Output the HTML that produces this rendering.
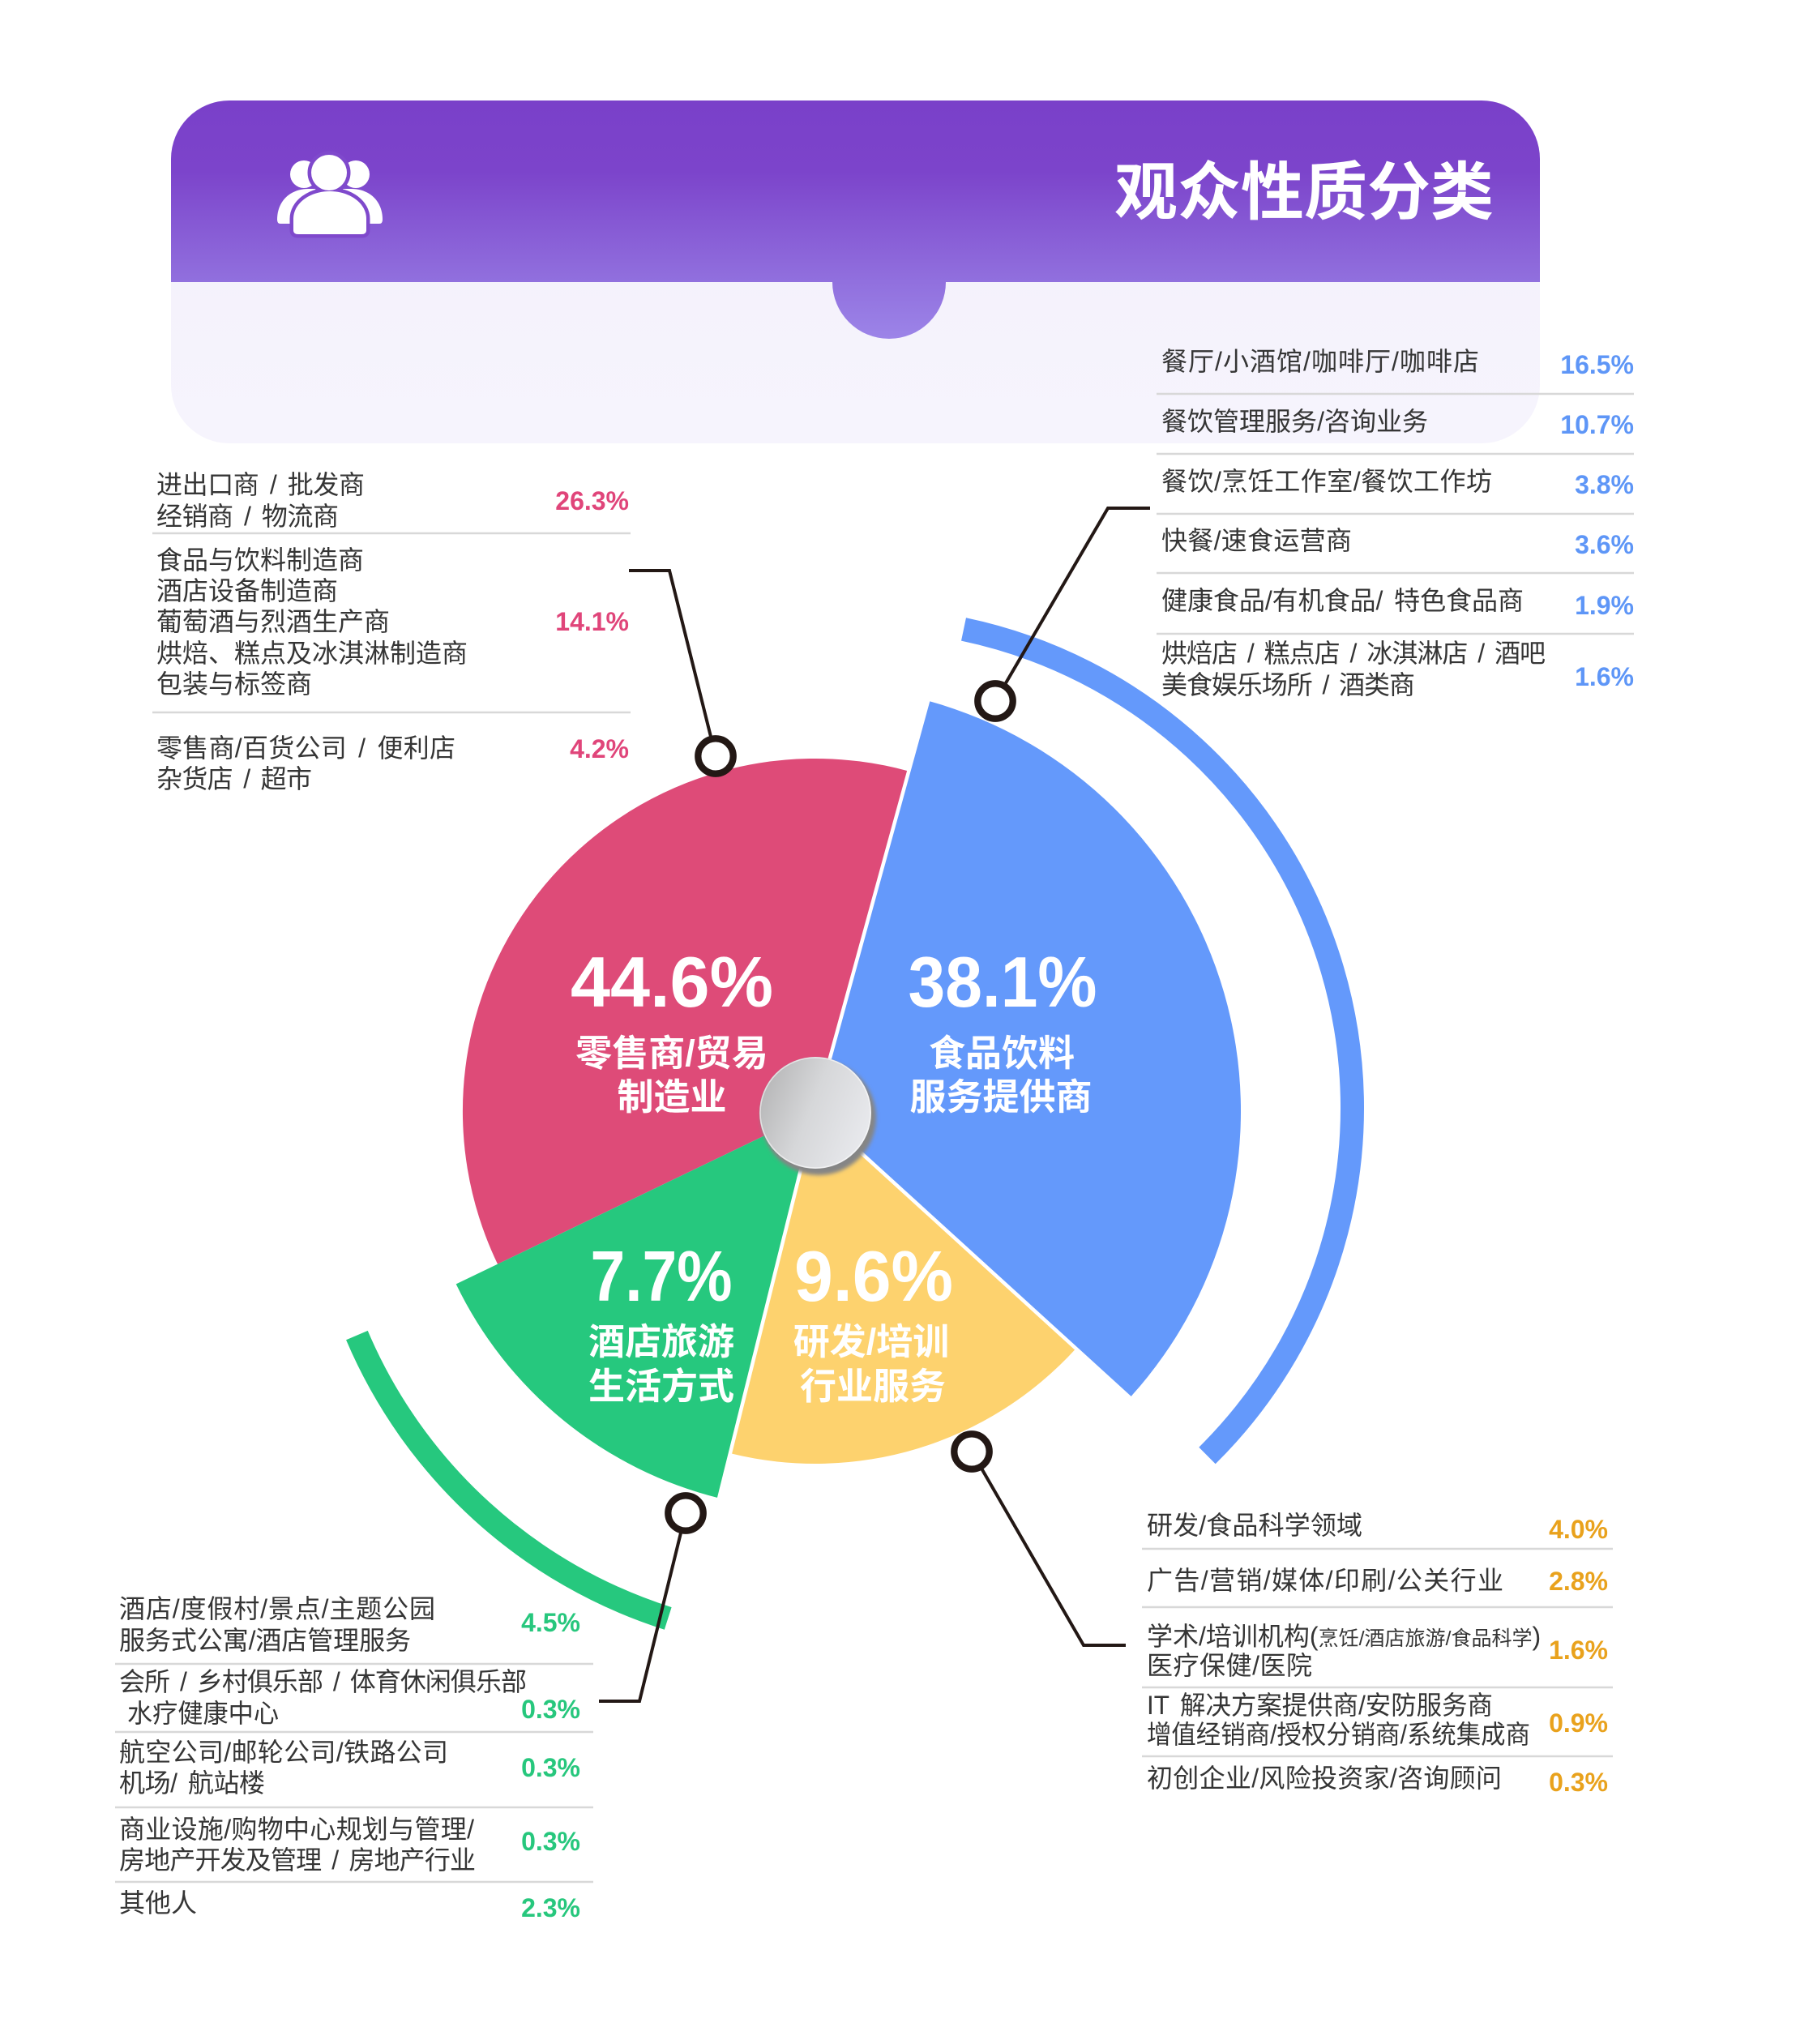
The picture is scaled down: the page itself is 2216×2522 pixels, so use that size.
<!DOCTYPE html>
<html><head><meta charset="utf-8"><style>
html,body{margin:0;padding:0;background:#fff;}
svg{display:block;}
text{font-family:"Liberation Sans","Noto Sans CJK SC",sans-serif;}
.l{font-size:32px;fill:#353535;word-spacing:5px;}
.p{font-size:32px;font-weight:bold;text-anchor:end;}
.pk{fill:#e0457a}.bl{fill:#5e96f7}.gr{fill:#27c77d}.or{fill:#e9a21d}
.big{font-size:88px;font-weight:bold;fill:#fff;text-anchor:middle;}
.cn{font-size:45px;font-weight:bold;fill:#fff;text-anchor:middle;}
.sep{stroke:#d8d8d8;stroke-width:2.5;}
.con{fill:none;stroke:#231815;stroke-width:4;}
.dot{fill:#fff;stroke:#231815;stroke-width:8.3;}
</style></head><body>
<svg width="2216" height="2522" viewBox="0 0 2216 2522" xmlns="http://www.w3.org/2000/svg">
<defs>
<clipPath id="hc"><rect x="211" y="124" width="1689" height="423" rx="72"/></clipPath>
<linearGradient id="pg" gradientUnits="userSpaceOnUse" x1="0" y1="124" x2="0" y2="418">
<stop offset="0" stop-color="#7a40c9"/><stop offset="0.3" stop-color="#7c44cb"/><stop offset="0.762" stop-color="#9170de"/><stop offset="1" stop-color="#9c84e8"/>
</linearGradient>
<linearGradient id="lg" x1="0" y1="0" x2="0" y2="1"><stop offset="0" stop-color="#f3f0fb"/><stop offset="1" stop-color="#f6f4fd"/></linearGradient>
<linearGradient id="cg" x1="0" y1="0.3" x2="1" y2="0.7"><stop offset="0" stop-color="#b6b6b7"/><stop offset="0.45" stop-color="#d6d7d9"/><stop offset="1" stop-color="#e9eaee"/></linearGradient>
<filter id="bl2" x="-20%" y="-20%" width="140%" height="140%"><feGaussianBlur stdDeviation="2.5"/></filter>
</defs>

<!-- Header -->
<g clip-path="url(#hc)">
<rect x="211" y="124" width="1689" height="423" fill="url(#lg)"/>
<rect x="211" y="124" width="1689" height="224" fill="url(#pg)"/>
</g>
<circle cx="1097" cy="348" r="70" fill="url(#pg)"/>

<!-- Icon -->
<g fill="#fff">
<circle cx="375" cy="215" r="17"/>
<path d="M342 271 C342 249 357 233 381 233 L402 233 L402 276 L346 276 Q342 276 342 271 Z"/>
<circle cx="439" cy="215" r="17"/>
<path d="M472 271 C472 249 457 233 433 233 L412 233 L412 276 L468 276 Q472 276 472 271 Z"/>
</g>
<g fill="none" stroke="#7f49cc" stroke-width="9">
<circle cx="406" cy="213" r="22"/>
<path d="M362 284 L362 270 C362 251 382 236 407 236 C432 236 452 251 452 270 L452 284 Q452 289 446 289 L368 289 Q362 289 362 284 Z"/>
</g>
<g fill="#fff">
<circle cx="406" cy="213" r="22"/>
<path d="M362 284 L362 270 C362 251 382 236 407 236 C432 236 452 251 452 270 L452 284 Q452 289 446 289 L368 289 Q362 289 362 284 Z"/>
</g>

<text x="1375" y="264" style="font-size:78px;font-weight:bold;fill:#fff;">观众性质分类</text>

<!-- Pie -->
<path d="M1006 1371 L614.0 1559.7 A435 435 0 0 1 1121.5 951.6 Z" fill="#de4b78"/>
<path d="M1006 1371 L1145.4 864.8 A525 525 0 0 1 1394.3 1724.3 Z" fill="#6499fb"/>
<path d="M1006 1371 L1327.7 1663.8 A435 435 0 0 1 901.5 1793.3 Z" fill="#fdd26e"/>
<path d="M1006 1371 L887.8 1848.6 A492 492 0 0 1 562.7 1584.4 Z" fill="#26c87e"/>
<g stroke="#fff" stroke-width="4.5">
<line x1="1006" y1="1371" x2="1147" y2="858"/>
<line x1="1006" y1="1371" x2="1398" y2="1728"/>
<line x1="1006" y1="1371" x2="886" y2="1853"/>
</g>

<!-- Outer arcs -->
<path d="M1189 776.4 A603.5 603.5 0 0 1 1489.5 1796" fill="none" stroke="#6499fb" stroke-width="29"/>
<path d="M824.2 1996.9 A621 621 0 0 1 440.4 1647.6" fill="none" stroke="#26c87e" stroke-width="29"/>

<!-- Center knob -->
<circle cx="1010" cy="1379" r="71" fill="#858585" filter="url(#bl2)"/>
<circle cx="1006" cy="1373" r="69" fill="url(#cg)"/>
<circle cx="1006" cy="1373" r="68" fill="none" stroke="#fff" stroke-opacity="0.55" stroke-width="1.5"/>

<!-- Pie labels -->
<text class="big" x="829" y="1242" textLength="250" lengthAdjust="spacingAndGlyphs">44.6%</text>
<text class="cn" x="829" y="1315">零售商/贸易</text>
<text class="cn" x="829" y="1369">制造业</text>
<text class="big" x="1237" y="1242" textLength="233" lengthAdjust="spacingAndGlyphs">38.1%</text>
<text class="cn" x="1236" y="1315">食品饮料</text>
<text class="cn" x="1235" y="1369">服务提供商</text>
<text class="big" x="816" y="1605" textLength="175" lengthAdjust="spacingAndGlyphs">7.7%</text>
<text class="cn" x="816" y="1671">酒店旅游</text>
<text class="cn" x="816" y="1726">生活方式</text>
<text class="big" x="1078" y="1605" textLength="196" lengthAdjust="spacingAndGlyphs">9.6%</text>
<text class="cn" x="1075" y="1671">研发/培训</text>
<text class="cn" x="1077" y="1726">行业服务</text>

<!-- Left top labels -->
<text class="l" x="193" y="609" textLength="257">进出口商 / 批发商</text>
<text class="l" x="193" y="648" textLength="225">经销商 / 物流商</text>
<text class="p pk" x="776" y="629">26.3%</text>
<line class="sep" x1="188" y1="658" x2="778" y2="658"/>
<text class="l" x="193" y="702">食品与饮料制造商</text>
<text class="l" x="193" y="740">酒店设备制造商</text>
<text class="l" x="193" y="778">葡萄酒与烈酒生产商</text>
<text class="l" x="193" y="817">烘焙、糕点及冰淇淋制造商</text>
<text class="l" x="193" y="855">包装与标签商</text>
<text class="p pk" x="776" y="778">14.1%</text>
<line class="sep" x1="188" y1="879" x2="778" y2="879"/>
<text class="l" x="193" y="934" textLength="369">零售商/百货公司 / 便利店</text>
<text class="l" x="193" y="972" textLength="192">杂货店 / 超市</text>
<text class="p pk" x="776" y="935">4.2%</text>

<!-- Right top labels -->
<text class="l" x="1433" y="457" textLength="392">餐厅/小酒馆/咖啡厅/咖啡店</text>
<text class="p bl" x="2016" y="461">16.5%</text>
<line class="sep" x1="1427" y1="486" x2="2016" y2="486"/>
<text class="l" x="1433" y="531" textLength="329">餐饮管理服务/咨询业务</text>
<text class="p bl" x="2016" y="535">10.7%</text>
<line class="sep" x1="1427" y1="560" x2="2016" y2="560"/>
<text class="l" x="1433" y="605" textLength="408">餐饮/烹饪工作室/餐饮工作坊</text>
<text class="p bl" x="2016" y="609">3.8%</text>
<line class="sep" x1="1427" y1="634" x2="2016" y2="634"/>
<text class="l" x="1433" y="678" textLength="235">快餐/速食运营商</text>
<text class="p bl" x="2016" y="683">3.6%</text>
<line class="sep" x1="1427" y1="707" x2="2016" y2="707"/>
<text class="l" x="1433" y="752" textLength="447">健康食品/有机食品/ 特色食品商</text>
<text class="p bl" x="2016" y="758">1.9%</text>
<line class="sep" x1="1427" y1="782" x2="2016" y2="782"/>
<text class="l" x="1433" y="817" textLength="474">烘焙店 / 糕点店 / 冰淇淋店 / 酒吧</text>
<text class="l" x="1433" y="856" textLength="313">美食娱乐场所 / 酒类商</text>
<text class="p bl" x="2016" y="846">1.6%</text>

<!-- Bottom right labels -->
<text class="l" x="1415" y="1893" textLength="266">研发/食品科学领域</text>
<text class="p or" x="1984" y="1898">4.0%</text>
<line class="sep" x1="1409" y1="1911" x2="1990" y2="1911"/>
<text class="l" x="1415" y="1961" textLength="440">广告/营销/媒体/印刷/公关行业</text>
<text class="p or" x="1984" y="1962">2.8%</text>
<line class="sep" x1="1409" y1="1983" x2="1990" y2="1983"/>
<text class="l" x="1415" y="2030">学术/培训机构(<tspan font-size="25">烹饪/酒店旅游/食品科学</tspan>)</text>
<text class="l" x="1415" y="2066" textLength="204">医疗保健/医院</text>
<text class="p or" x="1984" y="2047">1.6%</text>
<line class="sep" x1="1409" y1="2082" x2="1990" y2="2082"/>
<text class="l" x="1415" y="2115" textLength="427" lengthAdjust="spacingAndGlyphs">IT 解决方案提供商/安防服务商</text>
<text class="l" x="1415" y="2151" textLength="473" lengthAdjust="spacingAndGlyphs">增值经销商/授权分销商/系统集成商</text>
<text class="p or" x="1984" y="2137">0.9%</text>
<line class="sep" x1="1409" y1="2167" x2="1990" y2="2167"/>
<text class="l" x="1415" y="2205" textLength="438">初创企业/风险投资家/咨询顾问</text>
<text class="p or" x="1984" y="2210">0.3%</text>

<!-- Bottom left labels -->
<text class="l" x="147" y="1996" textLength="390">酒店/度假村/景点/主题公园</text>
<text class="l" x="147" y="2035" textLength="360">服务式公寓/酒店管理服务</text>
<text class="p gr" x="716" y="2013">4.5%</text>
<line class="sep" x1="142" y1="2053" x2="732" y2="2053"/>
<text class="l" x="147" y="2086" textLength="503">会所 / 乡村俱乐部 / 体育休闲俱乐部</text>
<text class="l" x="157" y="2125" textLength="187" lengthAdjust="spacingAndGlyphs">水疗健康中心</text>
<text class="p gr" x="716" y="2120">0.3%</text>
<line class="sep" x1="142" y1="2137" x2="732" y2="2137"/>
<text class="l" x="147" y="2173" textLength="406">航空公司/邮轮公司/铁路公司</text>
<text class="l" x="147" y="2211" textLength="180">机场/ 航站楼</text>
<text class="p gr" x="716" y="2192">0.3%</text>
<line class="sep" x1="142" y1="2230" x2="732" y2="2230"/>
<text class="l" x="147" y="2268" textLength="438">商业设施/购物中心规划与管理/</text>
<text class="l" x="147" y="2306" textLength="440">房地产开发及管理 / 房地产行业</text>
<text class="p gr" x="716" y="2283">0.3%</text>
<line class="sep" x1="142" y1="2322" x2="732" y2="2322"/>
<text class="l" x="147" y="2359">其他人</text>
<text class="p gr" x="716" y="2365">2.3%</text>

<!-- Connectors -->
<polyline class="con" points="776,704 826,704 883,933"/>
<polyline class="con" points="1419,627 1367,627 1228,865"/>
<polyline class="con" points="1199,1791 1337,2030 1389,2030"/>
<polyline class="con" points="846,1867 789,2099 739,2099"/>
<circle class="dot" cx="883" cy="933" r="21.7"/>
<circle class="dot" cx="1228" cy="865" r="21.7"/>
<circle class="dot" cx="1199" cy="1791" r="21.7"/>
<circle class="dot" cx="846" cy="1867" r="21.7"/>
</svg>
</body></html>
